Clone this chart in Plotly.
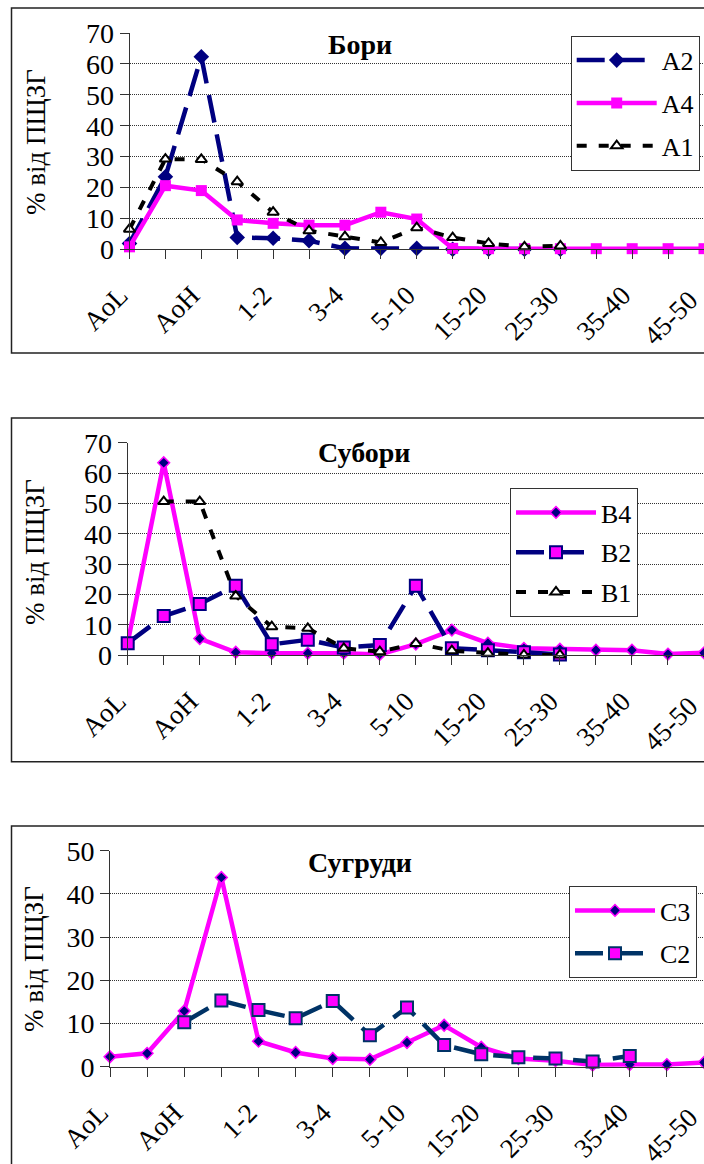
import plotly.graph_objects as go

W, H = 704, 1164

categories = ["AoL", "AoF", "AoH", "0-1", "1-2", "2-3", "3-4", "4-5", "5-10",
              "10-15", "15-20", "20-25", "25-30", "30-35", "35-40", "40-45", "45-50"]
tick_text = [c + "\u00a0\u00a0" if i % 2 == 0 else "" for i, c in enumerate(categories)]
tick_text[-1] = categories[-1] + "\u00a0\u00a0\u00a0"

# Panel 1 - Бори
a2 = [1.9, 23.5, 62.3, 3.8, 3.6, 2.8, 0.3, 0.3, 0.3, 0.0, 0.0, 0.0, 0.0]
a4 = [0.8, 20.6, 19.0, 9.5, 8.4, 7.8, 7.8, 12.0, 9.8, 0.3, 0.2, 0.2, 0.2, 0.2, 0.2, 0.2, 0.2]
a1 = [6.5, 29.2, 29.1, 21.9, 12.0, 6.0, 4.1, 2.2, 7.0, 3.8, 1.9, 0.8, 1.1]

# Panel 2 - Субори
b4 = [4.1, 63.4, 5.5, 1.0, 0.7, 0.7, 0.7, 0.3, 3.7, 8.3, 4.0, 2.3, 2.0, 1.7, 1.7, 0.4, 0.8]
b2 = [4.0, 12.9, 16.9, 22.9, 3.6, 5.1, 2.6, 3.4, 22.9, 2.3, 1.7, 1.0, 0.3]
b1 = [None, 50.6, 50.6, 19.5, 9.4, 8.9, 2.3, 1.2, 3.9, 1.5, 0.7, 0.1, 0.1]

# Panel 3 - Сугруди
c3 = [2.3, 3.1, 12.9, 43.8, 5.9, 3.3, 1.9, 1.7, 5.6, 9.6, 4.5, 1.9, 1.4, 0.4, 0.5, 0.5, 1.0]
c2 = [None, None, 10.3, 15.3, 13.1, 11.2, 15.2, 7.3, 13.7, 5.0, 2.9, 2.2, 1.9, 1.2, 2.5]

titles = ["Бори", "Субори", "Сугруди"]
y_title = "% від ПЩЗГ"

FONT = "Liberation Serif"
NAVY = "#000080"
PINK = "#FF00FF"
DNAVY = "#003366"
LONG = "28px,12px"
SHORT = "10px,12px"

fig = go.Figure()


def add(y, name, xa, ya, leg, color, dash, width, msym, msize, mcolor, mlcolor, mlw, group):
    fig.add_trace(go.Scatter(
        x=categories[:len(y)], y=y, name=name, mode="lines+markers",
        xaxis=xa, yaxis=ya, legend=leg, legendgroup=group,
        line=dict(color=color, dash=dash, width=width),
        marker=dict(symbol=msym, size=msize, color=mcolor,
                    line=dict(color=mlcolor, width=mlw)),
        cliponaxis=False, connectgaps=False,
    ))


add(a2, "A2", "x", "y", "legend", NAVY, LONG, 4.5, "diamond", 12, NAVY, NAVY, 0, "a2")
add(a4, "A4", "x", "y", "legend", PINK, "solid", 4.5, "square", 11, PINK, PINK, 0, "a4")
add(a1, "A1", "x", "y", "legend", "black", SHORT, 4, "triangle-up", 10, "white", "black", 2, "a1")

add(b4, "B4", "x2", "y2", "legend2", PINK, "solid", 4.5, "diamond", 9, NAVY, PINK, 1.5, "b4")
add(b2, "B2", "x2", "y2", "legend2", NAVY, LONG, 4.5, "square", 12, PINK, NAVY, 2, "b2")
add(b1, "B1", "x2", "y2", "legend2", "black", SHORT, 4, "triangle-up", 10, "white", "black", 2, "b1")

add(c3, "C3", "x3", "y3", "legend3", PINK, "solid", 4.5, "diamond", 9, NAVY, PINK, 1.5, "c3")
add(c2, "C2", "x3", "y3", "legend3", DNAVY, LONG, 4.5, "square", 12, PINK, DNAVY, 2, "c2")

# panel geometry in pixels: (x_left, y_top, y_bottom, ymax)
panels = [(129.5, 33.0, 249.3, 70), (127.7, 442.7, 655.3, 70), (110.0, 850.7, 1066.7, 50)]
boxes = [(11.5, 8.0, 353.0), (11.5, 418.0, 761.7), (11.5, 826.0, 1190.0)]
title_pos = [(360, 45), (364, 453), (360, 862)]
ytitle_pos = [(36, 142), (35, 552), (34, 959)]
legend_pos = [(570.7, 35.7), (510.0, 488.0), (569.0, 886.0)]
legend_gap = [6, 3, 6]

layout = dict(
    width=W, height=H, margin=dict(l=0, r=0, t=0, b=0, autoexpand=False),
    paper_bgcolor="white", plot_bgcolor="white",
    font=dict(family=FONT, color="black", size=27),
    showlegend=True,
)

annotations = []
shapes = []
for i, (xl, yt, yb, ymax) in enumerate(panels):
    sfx = "" if i == 0 else str(i + 1)
    layout["xaxis" + sfx] = dict(
        domain=[xl / W, 1.0], anchor="y" + sfx, type="category",
        categoryorder="array", categoryarray=categories,
        range=[0, 16], tickmode="array", tickvals=categories, ticktext=tick_text,
        tickangle=-45, ticks="outside", ticklen=9, tickcolor="#333", tickwidth=1,
        showline=True, linecolor="#333", linewidth=1, showgrid=False, zeroline=False,
        tickfont=dict(family=FONT, size=27, color="black"), ticklabelstandoff=0,
        fixedrange=True, automargin=False,
    )
    layout["yaxis" + sfx] = dict(
        domain=[1 - yb / H, 1 - yt / H], anchor="x" + sfx,
        range=[0, ymax], dtick=10, tick0=0,
        ticks="outside", ticklen=9, tickcolor="#333", tickwidth=1,
        showline=True, linecolor="#333", linewidth=1,
        showgrid=True, gridcolor="#333", gridwidth=1, griddash="1px,1px",
        zeroline=False, tickfont=dict(family=FONT, size=28, color="black"),
        fixedrange=True, automargin=False,
    )
    tx, ty = title_pos[i]
    annotations.append(dict(
        text="<b>" + titles[i] + "</b>", x=tx / W, y=1 - ty / H, xref="paper", yref="paper",
        showarrow=False, font=dict(family=FONT, size=28, color="black"),
        xanchor="center", yanchor="middle",
    ))
    yx, yy = ytitle_pos[i]
    annotations.append(dict(
        text=y_title, x=yx / W, y=1 - yy / H, xref="paper", yref="paper",
        showarrow=False, textangle=-90, font=dict(family=FONT, size=27, color="black"),
        xanchor="center", yanchor="middle",
    ))
    bx, by0, by1 = boxes[i]
    shapes.append(dict(
        type="rect", xref="paper", yref="paper",
        x0=bx / W, x1=1.05, y0=1 - by1 / H, y1=1 - by0 / H,
        line=dict(color="#222", width=1.5), fillcolor="rgba(0,0,0,0)", layer="above",
    ))
    lx, ly = legend_pos[i]
    lname = "legend" if i == 0 else "legend" + str(i + 1)
    layout[lname] = dict(
        x=lx / W, y=1 - ly / H, xanchor="left", yanchor="top",
        xref="paper", yref="paper",
        bgcolor="white", bordercolor="#333", borderwidth=1,
        font=dict(family=FONT, size=26, color="black"),
        itemwidth=80, tracegroupgap=legend_gap[i], traceorder="grouped",
    )

layout["annotations"] = annotations
layout["shapes"] = shapes
fig.update_layout(**layout)

fig.write_html("out.html")
